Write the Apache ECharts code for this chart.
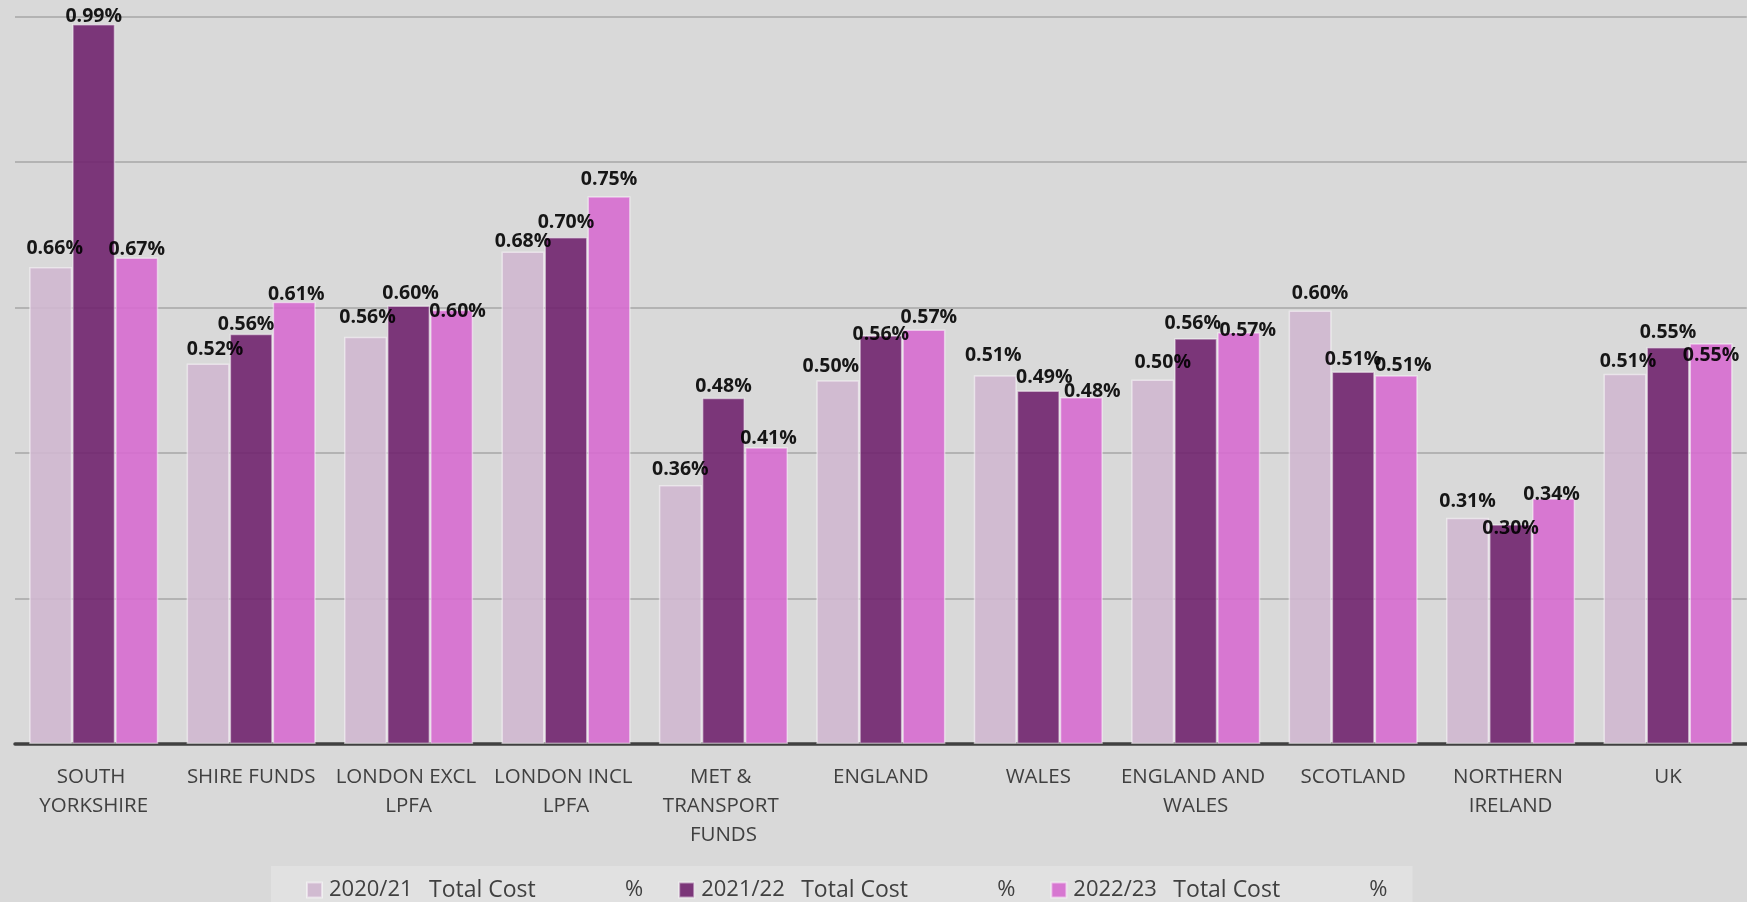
<!DOCTYPE html>
<html>
<head>
<meta charset="utf-8">
<style>
  html, body { margin: 0; padding: 0; background: #d9d9d9; }
  #chart { width: 1747px; height: 902px; }
</style>
<script src="https://cdn.jsdelivr.net/npm/echarts@6/dist/echarts.min.js"></script>
</head>
<body>
<div id="chart"></div>
<script>
// ---- data ----
const categories = ['SOUTH YORKSHIRE', 'SHIRE FUNDS', 'LONDON EXCL LPFA', 'LONDON INCL LPFA',
  'MET & TRANSPORT FUNDS', 'ENGLAND', 'WALES', 'ENGLAND AND WALES', 'SCOTLAND',
  'NORTHERN IRELAND', 'UK'];
const seriesNames = ['2020/21  Total Cost %', '2021/22  Total Cost %', '2022/23  Total Cost %'];
const cost2020 = [0.656, 0.523, 0.560, 0.677, 0.356, 0.500, 0.507, 0.501, 0.596, 0.311, 0.509];
const cost2021 = [0.990, 0.564, 0.603, 0.697, 0.476, 0.562, 0.486, 0.558, 0.512, 0.302, 0.546];
const cost2022 = [0.669, 0.608, 0.597, 0.753, 0.408, 0.570, 0.477, 0.566, 0.507, 0.338, 0.551];

// ---- label nudges (style: how far each label sits above its bar, and sideways shift) ----
const labelLift = [
  [19, 15, 20.7, 10.7, 17, 15.3, 20.7, 17.8, 18.2, 16.9, 13.7],
  [9, 10, 13, 16, 12.7, 1.7, 14, 15.8, 12.9, -2.7, 15.6],
  [9, 8, -1, 17.7, 10, 13, 6.7, 2.8, 10.8, 5, -10.8]
];
const labelShift = [
  [4, 7, 2, 0, 0, -7, -2, 10, 10, 0, 3],
  [0, -5, 2, 0, 0, 0, 6, -3, 0, 0, 0],
  [0, 2, 6, 0, 2, 5, 11, 9, 7, -2, 0]
];

const colors = ['#cfb7cf', '#70246e', '#d66bcf'];
const allValues = [cost2020, cost2021, cost2022];

const FONT = 'Open Sans';

const series = allValues.map((vals, si) => ({
  name: seriesNames[si],
  type: 'bar',
  barGap: '0%',
  barCategoryGap: '18%',
  itemStyle: {
    color: colors[si],
    opacity: 0.9,
    borderColor: 'rgba(255,255,255,0.55)',
    borderWidth: 1.5
  },
  label: {
    show: true,
    position: 'top',
    distance: 0,
    color: '#000000',
    fontFamily: FONT,
    fontWeight: 'bold',
    fontSize: 19.5,
    lineHeight: 20,
    formatter: p => p.value.toFixed(2) + '%'
  },
  data: vals.map((v, i) => ({
    value: v,
    label: { offset: [labelShift[si][i], -(labelLift[si][i] - 11)] }
  }))
}));

const chart = echarts.init(document.getElementById('chart'), null, { renderer: 'canvas' });
chart.setOption({
  backgroundColor: '#d9d9d9',
  animation: false,
  grid: { left: 15, right: 0, top: 16.7, bottom: 158, containLabel: false },
  xAxis: {
    type: 'category',
    data: categories,
    axisLine: { lineStyle: { color: '#404040', width: 3.5 } },
    axisTick: { show: false },
    axisLabel: {
      interval: 0,
      margin: 19,
      color: '#404040',
      fontFamily: FONT,
      fontSize: 20.5,
      lineHeight: 29,
      width: 152,
      overflow: 'break',
      align: 'center'
    }
  },
  yAxis: {
    type: 'value',
    min: 0,
    max: 1,
    interval: 0.2,
    axisLabel: { show: false },
    axisLine: { show: false },
    axisTick: { show: false },
    splitLine: { lineStyle: { color: '#a6a6a6', width: 1.5 } }
  },
  legend: {
    left: 271,
    top: 866,
    orient: 'horizontal',
    backgroundColor: '#e1e1e1',
    padding: [11, 25, 10, 35],
    itemGap: 35,
    itemWidth: 15,
    itemHeight: 15,
    icon: 'rect',
    textStyle: {
      color: '#404040',
      fontFamily: FONT,
      fontSize: 22,
      lineHeight: 26,
      rich: {
        a: { fontFamily: FONT, fontSize: 22, color: '#404040', width: 100, padding: [0, 0, 0, 2] },
        b: { fontFamily: FONT, fontSize: 23, color: '#404040', width: 196 },
        c: { fontFamily: FONT, fontSize: 22, color: '#404040' }
      }
    },
    formatter: name => {
      const parts = name.split('  ');
      const rest = parts[1].replace(/\s*%$/, '');
      return '{a|' + parts[0] + '}{b|' + rest + '}{c|%}';
    },
    data: seriesNames
  },
  series: series
});
</script>
</body>
</html>
